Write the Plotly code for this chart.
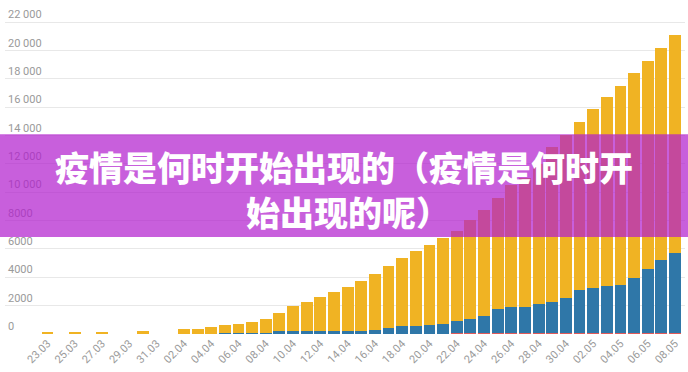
import plotly.graph_objects as go

dates = ["23.03", "24.03", "25.03", "26.03", "27.03", "28.03", "29.03", "30.03", "31.03",
         "01.04", "02.04", "03.04", "04.04", "05.04", "06.04", "07.04", "08.04", "09.04",
         "10.04", "11.04", "12.04", "13.04", "14.04", "15.04", "16.04", "17.04", "18.04",
         "19.04", "20.04", "21.04", "22.04", "23.04", "24.04", "25.04", "26.04", "27.04",
         "28.04", "29.04", "30.04", "01.05", "02.05", "03.05", "04.05", "05.05", "06.05",
         "07.05", "08.05"]

red_vals = [0, 0, 0, 0, 0, 0, 0, 0, 0, 0,
            10, 10, 10, 10, 10, 10, 10,
            30, 30, 30, 30, 30, 30, 30, 30, 30, 30, 30, 30, 30,
            60, 60, 60, 60, 60, 60, 60, 60, 60, 60, 60, 60, 60, 60, 60, 60, 60]

blue_vals = [0, 0, 0, 0, 0, 0, 0, 70, 0, 0,
             20, 20, 25, 30, 40, 50, 70,
             150, 190, 200, 200, 210, 210, 215, 230, 390, 540, 540, 600, 660,
             850, 1020, 1220, 1670, 1810, 1850, 2090, 2180, 2510, 3050, 3220,
             3310, 3380, 3920, 4530, 5190, 5640]

yellow_vals = [110, 0, 110, 0, 110, 0, 0, 110, 0, 0,
               300, 340, 435, 590, 690, 820, 1000,
               1320, 1780, 2030, 2380, 2700, 3070, 3515, 3990, 4400, 4760, 5260, 5670, 6050,
               6380, 6980, 7490, 7900, 8610, 9090, 9850, 10930, 11460, 11840, 12590,
               13370, 14070, 14400, 14680, 14940, 15430]

x_tick_labels = dates[::2]
y_tick_vals = [0, 2000, 4000, 6000, 8000, 10000, 12000, 14000, 16000, 18000, 20000, 22000]
y_tick_text = ["0", "2000", "4000", "6000", "8000", "10 000", "12 000", "14 000",
               "16 000", "18 000", "20 000", "22 000"]

title_line1 = "疫情是何时开始出现的（疫情是何时开"
title_line2 = "始出现的呢）"

fig = go.Figure()
fig.add_trace(go.Bar(x=dates, y=red_vals, marker=dict(color="#e05a5a", line=dict(width=0)), name="red"))
fig.add_trace(go.Bar(x=dates, y=blue_vals, marker=dict(color="#2f77a8", line=dict(width=0)), name="blue"))
fig.add_trace(go.Bar(x=dates, y=yellow_vals, marker=dict(color="#f0b323", line=dict(width=0)), name="yellow"))

fig.update_layout(
    width=688, height=372,
    margin=dict(l=5, r=3, t=8, b=38, autoexpand=False),
    barmode="stack",
    bargap=0.13,
    showlegend=False,
    plot_bgcolor="white",
    paper_bgcolor="white",
    font=dict(family="Roboto", color="#999999"),
)

fig.update_xaxes(
    type="category",
    categoryorder="array",
    categoryarray=dates,
    range=[-3.116, 46.73],
    tickmode="array",
    tickvals=x_tick_labels,
    ticktext=x_tick_labels,
    tickangle=-45,
    tickfont=dict(family="Roboto", size=11, color="#9a9a9a"),
    showgrid=False,
    showline=False,
    ticks="",
    zeroline=False,
    automargin=False,
)

fig.update_yaxes(
    range=[0, 23000],
    tickmode="array",
    tickvals=y_tick_vals,
    ticktext=y_tick_text,
    ticklabelposition="inside top",
    tickfont=dict(family="Roboto", size=11, color="#9a9a9a"),
    showgrid=True,
    gridcolor="#e8e8e8",
    gridwidth=1,
    zeroline=False,
    showline=False,
    ticks="",
    automargin=False,
)

fig.add_shape(
    type="rect", xref="paper", yref="paper",
    x0=-0.02, x1=1.02, y0=0.2975, y1=0.6126,
    fillcolor="rgba(178,30,206,0.71)", line=dict(width=0), layer="above",
)

fig.add_annotation(
    text=title_line1, xref="paper", yref="paper", x=0.4985, y=0.5153,
    showarrow=False, xanchor="center", yanchor="middle",
    font=dict(family="Noto Sans CJK SC", size=34, color="white", weight=900),
)
fig.add_annotation(
    text=title_line2, xref="paper", yref="paper", x=0.5045, y=0.3773,
    showarrow=False, xanchor="center", yanchor="middle",
    font=dict(family="Noto Sans CJK SC", size=34, color="white", weight=900),
)

fig.write_html(
    "out.html",
    config={"displayModeBar": False},
    post_script="document.body.style.margin='0';document.body.style.padding='0';",
)
